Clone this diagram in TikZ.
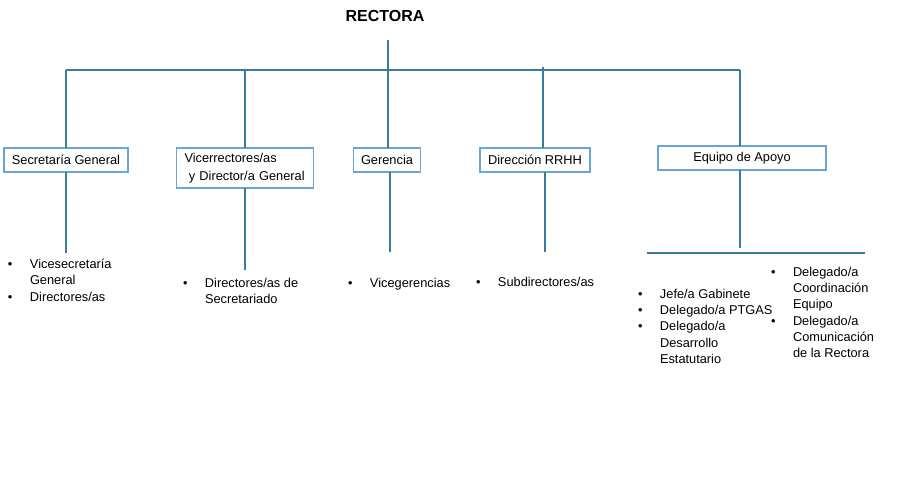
\documentclass[tikz,border=0pt]{standalone}
\usepackage{fontspec}
\setmainfont{Liberation Sans}
\usepackage{tikz}
\definecolor{linea}{HTML}{3A7A9E}
\definecolor{borde}{HTML}{6AA5DA}
\tikzstyle{every node}=[inner sep=0pt,outer sep=0pt]
\tikzstyle{unidad}=[draw=borde,line width=1.4pt,font=\fontsize{12.8}{18}\selectfont,
  minimum height=24pt,align=left]
\tikzstyle{lista}=[anchor=north west,align=left,font=\fontsize{12.8}{16.3}\selectfont]
\tikzstyle{conector}=[draw=linea,line width=1.8pt]
\newcommand{\bul}{\makebox[22pt][l]{\textbullet}}
\newcommand{\sig}{\hspace*{22pt}}

\begin{document}
\begin{tikzpicture}[x=1pt,y=-1pt]
  \useasboundingbox (0,0) rectangle (902,497);
  \node [font=\fontsize{16}{18}\selectfont\bfseries] (rectora) at (385,16) {RECTORA};
  % unidades
  \node [unidad,minimum width=124pt] (secgen) at (66,160) {Secretaría General};
  \node [unidad,text width=121pt,minimum height=40pt,inner xsep=8pt,anchor=north] (vicerr) at (245,148)
    {Vicerrectores/as\\ \ y Director/a General};
  \node [unidad,minimum width=67pt] (geren) at (387,160) {Gerencia};
  \node [unidad,minimum width=110pt] (rrhh) at (535,160) {Dirección RRHH};
  \node [unidad,minimum width=168pt] (equipo) at (742,158) {Equipo de Apoyo};
  % bus
  \coordinate (arriba) at (388,40);
  \coordinate (bus) at (388,70);
  \coordinate (busizq) at (66,70);
  \coordinate (busder) at (740,70);
  \draw [conector] (arriba) -- ([yshift=-4pt]bus);
  \draw [conector] (busizq) -- (busder);
  \draw [conector] (busizq) -- (secgen.north);
  \draw [conector] (vicerr.north |- bus) -- (vicerr.north);
  \draw [conector] (bus) -- (bus |- geren.north);
  \draw [conector] (543,67) coordinate (rrhhtop) -- (rrhhtop |- rrhh.north);
  \draw [conector] (busder) -- (busder |- equipo.north);
  % hacia abajo
  \draw [conector] (secgen.south) -- ++(0,81);
  \draw [conector] (vicerr.south) -- ++(0,82);
  \draw [conector] ([xshift=3pt]geren.south) -- ++(0,80);
  \draw [conector] ([xshift=10pt]rrhh.south) -- ++(0,80);
  \draw [conector] ([xshift=-2pt]equipo.south) coordinate (eqbajo) -- ++(0,78);
  \coordinate (linizq) at (647,253);
  \coordinate (linder) at (865,253);
  \draw [conector] (linizq) -- (linder);
  % listas
  \node [lista] (l1) at (8,259) {\bul Vicesecretaría\\ \sig General\\ \bul Directores/as};
  \node [lista] (l2) at (183,278) {\bul Directores/as de\\ \sig Secretariado};
  \node [lista] (l3) at (348,278) {\bul Vicegerencias};
  \node [lista] (l4) at (476,277) {\bul Subdirectores/as};
  \node [lista] (l5) at (638,289) {\bul Jefe/a Gabinete\\ \bul Delegado/a PTGAS\\ \bul Delegado/a\\ \sig Desarrollo\\ \sig Estatutario};
  \node [lista] (l6) at (771,267) {\bul Delegado/a\\ \sig Coordinación\\ \sig Equipo\\ \bul Delegado/a\\ \sig Comunicación\\ \sig de la Rectora};
\end{tikzpicture}
\end{document}
